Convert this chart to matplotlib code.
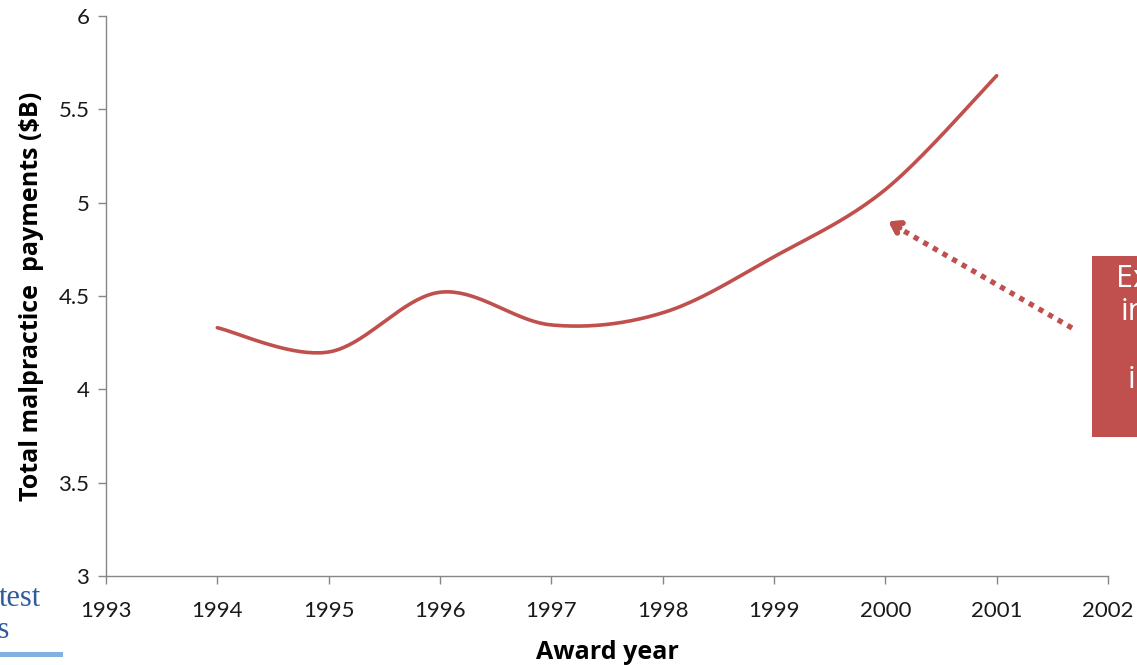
import numpy as np
import matplotlib
matplotlib.use('Agg')
from matplotlib import pyplot as plt
from matplotlib.patches import Rectangle

# Total malpractice payments by award year ($ billions)
years = [1994, 1995, 1996, 1997, 1998, 1999, 2000, 2001]
payments = [4.33, 4.20, 4.52, 4.345, 4.41, 4.71, 5.07, 5.68]

x_ticks = list(range(1993, 2003))
y_ticks = [3, 3.5, 4, 4.5, 5, 5.5, 6]
y_tick_labels = ['3', '3.5', '4', '4.5', '5', '5.5', '6']

callout_lines = ['Explosive', 'increase', 'of', 'in payouts']

RED = '#C0504D'
GRAY = '#868686'


def smooth(xs, ys, n=40):
	# Catmull-Rom style bezier through every point (like a spreadsheet "smoothed line")
	xs = np.asarray(xs, float)
	ys = np.asarray(ys, float)
	px = np.concatenate([[xs[0]], xs, [xs[-1]]])
	py = np.concatenate([[ys[0]], ys, [ys[-1]]])
	out_x, out_y = [], []
	t = np.linspace(0, 1, n)
	for i in range(1, len(px) - 2):
		p0 = np.array([px[i], py[i]])
		p3 = np.array([px[i + 1], py[i + 1]])
		c1 = p0 + (np.array([px[i + 1], py[i + 1]]) - np.array([px[i - 1], py[i - 1]])) / 6
		c2 = p3 - (np.array([px[i + 2], py[i + 2]]) - np.array([px[i], py[i]])) / 6
		b = ((1 - t) ** 3)[:, None] * p0 + (3 * (1 - t) ** 2 * t)[:, None] * c1 \
			+ (3 * (1 - t) * t ** 2)[:, None] * c2 + (t ** 3)[:, None] * p3
		out_x.extend(b[:, 0])
		out_y.extend(b[:, 1])
	return out_x, out_y


fig = plt.figure(figsize=(11.37, 6.65), dpi=100)
ax = fig.add_axes([0.0932, 0.1338, 0.8813, 0.8422])

sx, sy = smooth(years, payments)
ax.plot(sx, sy, color=RED, lw=2.6, solid_capstyle='round')

ax.set_xlim(1993, 2002)
ax.set_ylim(3, 6)
ax.set_xticks(x_ticks)
ax.set_yticks(y_ticks)
ax.set_yticklabels(y_tick_labels)

for s in ['top', 'right']:
	ax.spines[s].set_visible(False)
for s in ['left', 'bottom']:
	ax.spines[s].set_color(GRAY)
	ax.spines[s].set_linewidth(1.0)
ax.tick_params(direction='out', length=6, width=1.0, color=GRAY,
			   labelsize=16, labelcolor='#1a1a1a')
ax.tick_params(axis='x', pad=12)
ax.tick_params(axis='y', pad=6)
for lab in ax.get_xticklabels() + ax.get_yticklabels():
	lab.set_family('Lato')

ax.set_xlabel('Award year', fontsize=18, fontweight='bold', family='Open Sans', labelpad=14)
ax.set_ylabel('Total malpractice  payments ($B)', fontsize=18, fontweight='bold',
			  family='Open Sans', labelpad=10)

# dotted arrow pointing at the 2000 part of the curve
fig.lines.append(plt.Line2D([1072 / 1137, 897 / 1137], [1 - 328 / 665, 1 - 227 / 665],
							transform=fig.transFigure, color=RED, lw=3.8,
							linestyle=(0, (1, 1.1)), dash_capstyle='butt'))
fig.add_artist(ax.annotate('', xy=(886 / 1137, 1 - 220 / 665), xytext=(902 / 1137, 1 - 229 / 665),
						   xycoords='figure fraction', textcoords='figure fraction',
						   arrowprops=dict(arrowstyle='->,head_length=0.6,head_width=0.4',
										   color=RED, lw=4)))

# callout box on the right edge
fig.patches.append(Rectangle((1092 / 1137, 1 - 437 / 665), 0.2, 181 / 665,
							 transform=fig.transFigure, facecolor=RED, edgecolor='none', zorder=5))
for txt, xp, yp in zip(callout_lines, [1116, 1121, 1142, 1128], [287, 320, 354, 388]):
	fig.text(xp / 1137, 1 - yp / 665, txt, color='white', fontsize=22, family='Open Sans',
			 ha='left', va='baseline', zorder=6)

# leftover slide text in the bottom-left corner
fig.text(-1 / 1137, 1 - 606 / 665, 'Latest', color='#2E5C9A', fontsize=22,
		 family='Liberation Serif', ha='right', va='baseline')
fig.text(-1 / 1137, 1 - 606 / 665, 'test', color='#2E5C9A', fontsize=22,
		 family='Liberation Serif', ha='left', va='baseline')
fig.text(10 / 1137, 1 - 638 / 665, 'trends', color='#2E5C9A', fontsize=22,
		 family='Liberation Serif', ha='right', va='baseline')
fig.patches.append(Rectangle((0, 1 - 657 / 665), 63 / 1137, 5 / 665,
							 transform=fig.transFigure, facecolor='#7FB2E0', edgecolor='none'))

fig.savefig('out.png', dpi=100)
